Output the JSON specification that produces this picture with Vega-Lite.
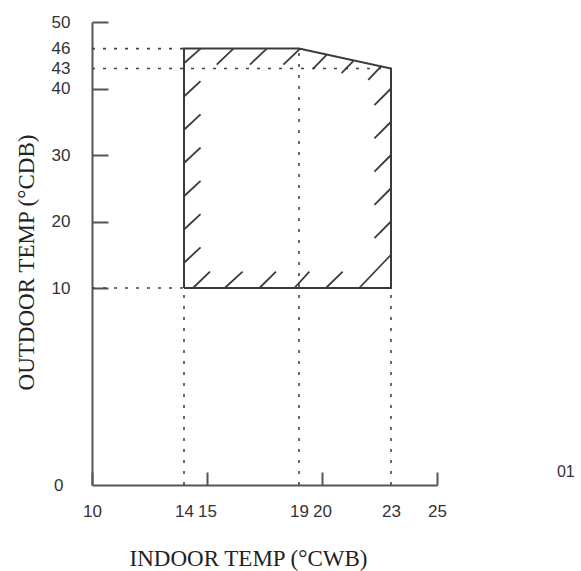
{
  "$schema": "https://vega.github.io/schema/vega-lite/v6.json",
  "width": 345,
  "height": 463,
  "autosize": "none",
  "padding": {"left": 92, "top": 22, "right": 144, "bottom": 86},
  "background": "white",
  "config": {"view": {"stroke": null}},
  "datasets": {
    "boundary": [
      {"i": 1, "x": 14, "y": 10},
      {"i": 2, "x": 14, "y": 46},
      {"i": 3, "x": 19, "y": 46},
      {"i": 4, "x": 23, "y": 43},
      {"i": 5, "x": 23, "y": 10},
      {"i": 6, "x": 14, "y": 10}
    ],
    "guides": [
      {"x": 10, "y": 46, "x2": 14, "y2": 46},
      {"x": 10, "y": 43, "x2": 23, "y2": 43},
      {"x": 10, "y": 10, "x2": 14, "y2": 10},
      {"x": 14, "y": 0, "x2": 14, "y2": 10},
      {"x": 19, "y": 0, "x2": 19, "y2": 46},
      {"x": 23, "y": 0, "x2": 23, "y2": 10}
    ],
    "hatches": [
      {"x": 14, "y": 43.8, "x2": 14.72, "y2": 46},
      {"x": 14, "y": 38.8, "x2": 14.72, "y2": 41.1},
      {"x": 14, "y": 33.8, "x2": 14.72, "y2": 36.1},
      {"x": 14, "y": 28.8, "x2": 14.72, "y2": 31.1},
      {"x": 14, "y": 23.8, "x2": 14.72, "y2": 26.1},
      {"x": 14, "y": 18.8, "x2": 14.72, "y2": 21.1},
      {"x": 14, "y": 13.8, "x2": 14.72, "y2": 16.1},
      {"x": 15.42, "y": 43.6, "x2": 16.15, "y2": 46},
      {"x": 16.87, "y": 43.6, "x2": 17.6, "y2": 46},
      {"x": 18.32, "y": 43.6, "x2": 19.05, "y2": 46},
      {"x": 19.62, "y": 43.0, "x2": 20.2, "y2": 45.05},
      {"x": 20.85, "y": 42.3, "x2": 21.36, "y2": 44.1},
      {"x": 22.01, "y": 41.3, "x2": 22.59, "y2": 43.4},
      {"x": 22.28, "y": 37.5, "x2": 23, "y2": 40},
      {"x": 22.28, "y": 32.5, "x2": 23, "y2": 35},
      {"x": 22.28, "y": 27.5, "x2": 23, "y2": 30},
      {"x": 22.28, "y": 22.5, "x2": 23, "y2": 25},
      {"x": 22.28, "y": 17.5, "x2": 23, "y2": 20},
      {"x": 21.62, "y": 10, "x2": 23, "y2": 15},
      {"x": 14.39, "y": 10, "x2": 15.13, "y2": 12.45},
      {"x": 15.77, "y": 10, "x2": 16.55, "y2": 12.45},
      {"x": 17.28, "y": 10, "x2": 18.0, "y2": 12.45},
      {"x": 18.8, "y": 10, "x2": 19.45, "y2": 12.45},
      {"x": 20.17, "y": 10, "x2": 20.9, "y2": 12.45}
    ],
    "notes": [
      {"x": 30.6, "y": 0.66, "t": "01"}
    ]
  },
  "encoding": {
    "x": {
      "field": "x",
      "type": "quantitative",
      "scale": {"domain": [10, 25], "nice": false, "zero": false},
      "axis": {
        "values": [10, 14, 15, 19, 20, 23, 25],
        "grid": false,
        "domainColor": "#555555",
        "domainWidth": 2,
        "tickColor": "#555555",
        "tickWidth": 2,
        "tickSize": -13,
        "tickOpacity": {"condition": {"test": "datum.value == 14 || datum.value == 19 || datum.value == 23", "value": 0}, "value": 1},
        "labelPadding": 31,
        "labelFont": "Liberation Sans",
        "labelFontSize": 17,
        "labelColor": "#333333",
        "labelFlush": false,
        "labelOverlap": false,
        "title": "INDOOR TEMP (°CWB)",
        "titleFont": "Liberation Serif",
        "titleFontSize": 23,
        "titleFontWeight": "normal",
        "titleColor": "#222222",
        "titleX": 156,
        "titleY": 80,
        "titleBaseline": "alphabetic",
        "titleAlign": "center"
      }
    },
    "y": {
      "field": "y",
      "type": "quantitative",
      "scale": {"domain": [0, 10, 50], "range": [463, 266, 0], "nice": false, "zero": false},
      "axis": {
        "values": [0, 10, 20, 30, 40, 43, 46, 50],
        "grid": false,
        "domainColor": "#555555",
        "domainWidth": 2,
        "tickColor": "#555555",
        "tickWidth": 2,
        "tickSize": -16,
        "tickOpacity": {"condition": {"test": "datum.value == 43 || datum.value == 46 || datum.value == 0", "value": 0}, "value": 1},
        "labelPadding": {"condition": {"test": "datum.value == 0", "value": 45}, "value": 38},
        "labelFont": "Liberation Sans",
        "labelFontSize": 17,
        "labelColor": "#333333",
        "labelFlush": false,
        "labelOverlap": false,
        "title": "OUTDOOR TEMP (°CDB)",
        "titleFont": "Liberation Serif",
        "titleFontSize": 23,
        "titleFontWeight": "normal",
        "titleColor": "#222222",
        "titleX": -59,
        "titleY": 240,
        "titleBaseline": "alphabetic",
        "titleAlign": "center"
      }
    }
  },
  "layer": [
    {
      "data": {"name": "guides"},
      "mark": {"type": "rule", "color": "#444444", "strokeWidth": 1.6, "strokeDash": [3, 8]},
      "encoding": {"x2": {"field": "x2"}, "y2": {"field": "y2"}}
    },
    {
      "data": {"name": "boundary"},
      "mark": {"type": "line", "color": "#3a3a3a", "strokeWidth": 2},
      "encoding": {"order": {"field": "i", "type": "quantitative"}}
    },
    {
      "data": {"name": "hatches"},
      "mark": {"type": "rule", "color": "#3a3a3a", "strokeWidth": 1.8},
      "encoding": {"x2": {"field": "x2"}, "y2": {"field": "y2"}}
    },
    {
      "data": {"name": "notes"},
      "mark": {"type": "text", "font": "Liberation Sans", "fontSize": 16, "color": "#333333", "align": "center", "baseline": "middle"},
      "encoding": {"text": {"field": "t"}}
    }
  ]
}
